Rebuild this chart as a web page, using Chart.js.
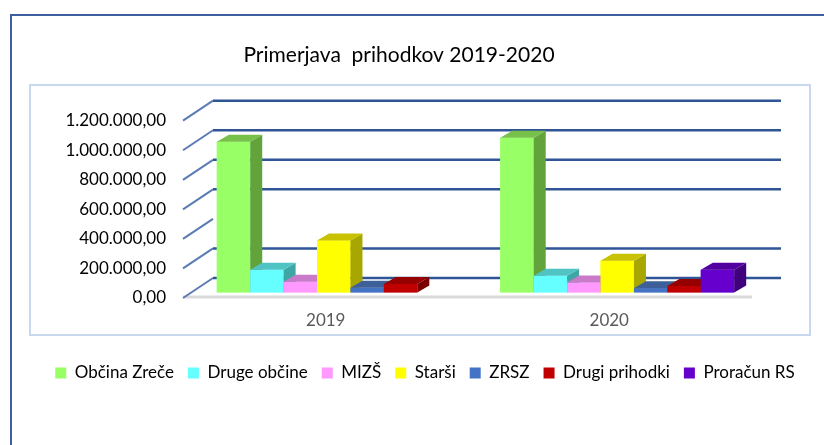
<!DOCTYPE html>
<html>
<head>
<meta charset="utf-8">
<script src="https://cdn.jsdelivr.net/npm/chart.js@4"></script>
<style>
  html, body { margin: 0; padding: 0; background: #fff; overflow: hidden; }
  #okvir { position: absolute; left: 10px; top: 14px; width: 900px; height: 500px; border: 2px solid #3e5f9f; box-sizing: border-box; }
  #ploscina { position: absolute; left: 29px; top: 84px; width: 782px; height: 252px; border: 2px solid #c9d7ef; box-sizing: border-box; }
  #wrap { position: absolute; left: 0; top: 0; width: 824px; height: 445px; }
</style>
</head>
<body>
<div id="okvir"></div>
<div id="ploscina"></div>
<div id="wrap"><canvas id="graf" width="824" height="445"></canvas></div>
<script>
const leta = ['2019', '2020'];

const obcinaZrece = [1020000, 1047000];
const drugeObcine = [154000, 113000];
const mizs = [72000, 68000];
const starsi = [352000, 215000];
const zrsz = [32000, 28000];
const drugiPrihodki = [58000, 44000];
const proracunRS = [0, 154000];

const imena = ['Občina Zreče', 'Druge občine', 'MIZŠ', 'Starši', 'ZRSZ', 'Drugi prihodki', 'Proračun RS'];
const vrednosti = [obcinaZrece, drugeObcine, mizs, starsi, zrsz, drugiPrihodki, proracunRS];

// sprednja, zgornja in stranska ploskev
const barve = [
  ['#99ff66', '#77c04a', '#62a33c'],
  ['#66ffff', '#50c4c4', '#3fa6a6'],
  ['#ff99ff', '#c97ac9', '#a860a8'],
  ['#ffff00', '#c8c200', '#a8a600'],
  ['#4472c4', '#3d5f9a', '#2f4b7c'],
  ['#c00000', '#960000', '#7a0000'],
  ['#6600cc', '#52009f', '#40007e']
];

const yMax = 1200000;
const yKorak = 200000;
const brezMreze = [400000]; // ta crta na sliki manjka

function fmt(v) {
  const [cel, dec] = v.toFixed(2).split('.');
  return cel.replace(/\B(?=(\d{3})+(?!\d))/g, '.') + ',' + dec;
}

const GX = 12, GY = 7;       // globina stolpca
const ZX = 21, ZY = 14.5;    // globina zadnje stene

const kocke = {
  id: 'kocke',
  beforeDatasetsDraw(chart) {
    const ctx = chart.ctx;
    const y = chart.scales.y;
    const a = chart.chartArea;
    ctx.save();
    // tla
    const p0 = y.getPixelForValue(0);
    ctx.strokeStyle = '#d9d9d9';
    ctx.lineWidth = 3;
    ctx.beginPath();
    ctx.moveTo(a.left - 9, p0 + 4.5);
    ctx.lineTo(a.right - 7, p0 + 4.5);
    ctx.stroke();
    y.ticks.forEach(t => {
      const py = y.getPixelForValue(t.value);
      ctx.strokeStyle = '#5b7bb5';
      ctx.lineWidth = 2;
      ctx.beginPath();
      ctx.moveTo(a.left - 9, py + 5.5);
      ctx.lineTo(a.left + ZX, py - ZY);
      ctx.stroke();
      if (brezMreze.includes(t.value)) return;
      ctx.strokeStyle = '#2f5597';
      ctx.lineWidth = 2.5;
      ctx.beginPath();
      ctx.moveTo(a.left + ZX, py - ZY);
      ctx.lineTo(a.right + ZX + 1, py - ZY);
      ctx.stroke();
    });
    ctx.restore();
  },
  // stolpce narisemo se enkrat od leve proti desni, da stranice pravilno prekrivajo
  afterDatasetsDraw(chart) {
    const ctx = chart.ctx;
    ctx.save();
    leta.forEach((_, i) => {
      chart.data.datasets.forEach((ds, d) => {
        if (!ds.data[i]) return;
        const bar = chart.getDatasetMeta(d).data[i];
        const b = barve[d];
        bar.draw(ctx);
        const { x, y, base, width } = bar.getProps(['x', 'y', 'base', 'width'], true);
        const l = x - width / 2, r = x + width / 2;
        ctx.fillStyle = b[2];
        ctx.beginPath();
        ctx.moveTo(r, y);
        ctx.lineTo(r + GX, y - GY);
        ctx.lineTo(r + GX, base - GY);
        ctx.lineTo(r, base);
        ctx.closePath();
        ctx.fill();
        ctx.fillStyle = b[1];
        ctx.beginPath();
        ctx.moveTo(l, y);
        ctx.lineTo(l + GX, y - GY);
        ctx.lineTo(r + GX, y - GY);
        ctx.lineTo(r, y);
        ctx.closePath();
        ctx.fill();
      });
    });
    ctx.restore();
  },
  afterLayout(chart) {
    chart.titleBlock.left -= 13;
    chart.titleBlock.right -= 13;
    chart.legend.left += 13;
    chart.legend.right += 13;
  }
};

new Chart(document.getElementById('graf'), {
  type: 'bar',
  data: {
    labels: leta,
    datasets: imena.map((ime, i) => ({
      label: ime,
      data: vrednosti[i],
      backgroundColor: barve[i][0],
      borderWidth: 0,
      categoryPercentage: 0.825,
      barPercentage: 1
    }))
  },
  options: {
    responsive: false,
    animation: false,
    layout: { padding: { top: 0, left: 0, right: 0, bottom: 53.5 } },
    plugins: {
      title: {
        display: true,
        text: 'Primerjava  prihodkov 2019-2020',
        color: '#000',
        font: { family: 'Lato', size: 21, weight: 'normal' },
        padding: { top: 43, bottom: 47 }
      },
      legend: {
        position: 'bottom',
        labels: {
          color: '#000',
          font: { family: 'Lato', size: 17 },
          boxWidth: 11,
          boxHeight: 11,
          padding: 14
        }
      },
      tooltip: { enabled: false }
    },
    scales: {
      x: {
        grid: { display: false, drawTicks: false },
        border: { display: false },
        ticks: {
          color: '#595959',
          font: { family: 'Lato', size: 17 },
          padding: 18,
          labelOffset: -8
        },
        afterFit(s) { s.height = 58; }
      },
      y: {
        min: 0,
        max: yMax,
        grid: { display: false, drawTicks: false },
        border: { display: false },
        ticks: {
          stepSize: yKorak,
          color: '#000',
          font: { family: 'Lato', size: 17 },
          padding: 26,
          labelOffset: 5.5,
          callback: v => fmt(v)
        },
        afterFit(s) { s.width = 192; }
      },
      y2: {
        position: 'right',
        grid: { display: false, drawTicks: false },
        border: { display: false },
        ticks: { display: false },
        afterFit(s) { s.width = 65; }
      }
    }
  },
  plugins: [kocke]
});
</script>
</body>
</html>
